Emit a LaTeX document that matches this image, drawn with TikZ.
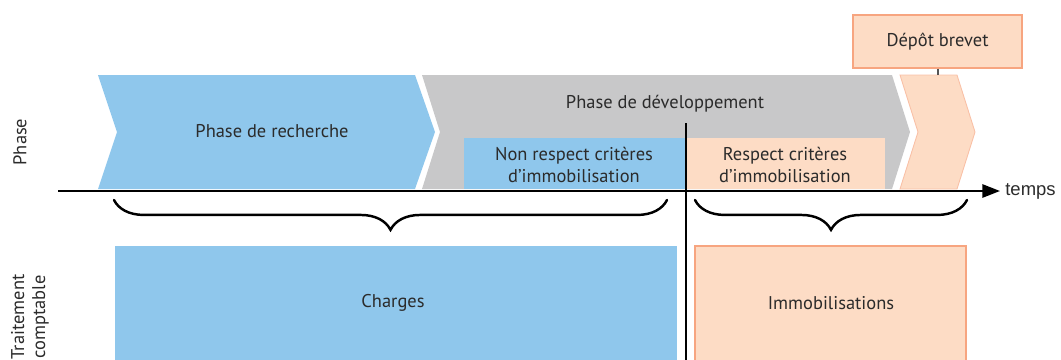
\documentclass[tikz,border=0pt]{standalone}
\usepackage{fontspec}
\setmainfont{PT Sans}
\newfontfamily\arialfont{Liberation Sans}
\usetikzlibrary{arrows.meta,decorations.pathreplacing}
\definecolor{cblue}{HTML}{8FC7EC}
\definecolor{cgrey}{HTML}{C8C8C9}
\definecolor{cpeach}{HTML}{FDDCC5}
\definecolor{corange}{HTML}{F7A580}
\definecolor{ctext}{HTML}{2B2B2B}
\tikzset{
  lbl/.style={text=ctext, font=\fontsize{10.5}{12.5}\selectfont, align=center, inner sep=0pt},
  sidelbl/.style={text=ctext, font=\fontsize{10.5}{12}\selectfont, align=center, rotate=90, inner sep=0pt},
  bracestyle/.style={decorate, decoration={brace, mirror, amplitude=17pt}, line width=1.4pt, line cap=round},
  peachbox/.style={fill=cpeach, draw=corange, line width=0.8pt},
}
\begin{document}
\begin{tikzpicture}[x=0.02cm, y=-0.02cm]
\useasboundingbox (0,0) rectangle (1061,359);
\clip (0,0) rectangle (1061,359);
% chevrons
\fill[cblue] (98,75) -- (415,75) -- (435,132) -- (415,189) -- (98,189) -- (117,132) -- cycle;
\fill[cgrey] (422,75) -- (892,75) -- (910,132) -- (892,189) -- (422,189) -- (440,132) -- cycle;
\filldraw[fill=cpeach, draw=corange!70, line width=0.5pt] (900,75) -- (957,75) -- (975,132) -- (957,189) -- (900,189) -- (918,132) -- cycle;
\node[lbl] (rech) at (272,131) {Phase de recherche};
\node[lbl] (dev) at (665,104) {Phase de développement};
% sub boxes
\fill[cblue] (464,138) rectangle (685,189);
\fill[cpeach] (685,138) rectangle (885,189);
\node[lbl] (nonresp) at (574,165) {Non respect critères\\d’immobilisation};
\node[lbl] (resp) at (785,165) {Respect critères\\d’immobilisation};
% depot brevet
\node[peachbox, minimum width=169*0.02cm, minimum height=53*0.02cm, inner sep=0pt] (depot) at (937.5,41.5) {};
\node[lbl] at (depot.center) {Dépôt brevet};
\coordinate (depotend) at (938,75);
\draw[ctext!80, line width=0.8pt] (depot.south -| depotend) -- (depotend);
% bottom boxes
\fill[cblue] (115,246) rectangle (677,370);
\draw[corange, line width=0.9pt, fill=cpeach] (695,246) rectangle (966,370);
\node[lbl] (charges) at (393,303) {Charges};
\node[lbl] (immo) at (831,303) {Immobilisations};
% axis
\coordinate (axstart) at (58,191);
\coordinate (axend) at (1000,191);
\draw[line width=1.2pt, -{Triangle[length=10pt,width=7.5pt]}] (axstart) -- (axend);
\node[text=ctext, font=\arialfont\fontsize{10.5}{12}\selectfont, anchor=west, inner sep=0pt] (temps) at (1005,191) {temps};
% vertical separator
\coordinate (vtop) at (686,123);
\coordinate (vbot) at (686,365);
\draw[line width=1.2pt] (vtop) -- (vbot);
% braces
\coordinate (b1a) at (114,200);
\coordinate (b1b) at (667,200);
\coordinate (b2a) at (695,200);
\coordinate (b2b) at (967,200);
\draw[bracestyle] (b1a) -- (b1b);
\draw[bracestyle] (b2a) -- (b2b);
% side labels
\node[sidelbl] (phase) at (20,142) {Phase};
\node[sidelbl] (trait) at (30,317) {Traitement\\comptable};
\end{tikzpicture}
\end{document}
